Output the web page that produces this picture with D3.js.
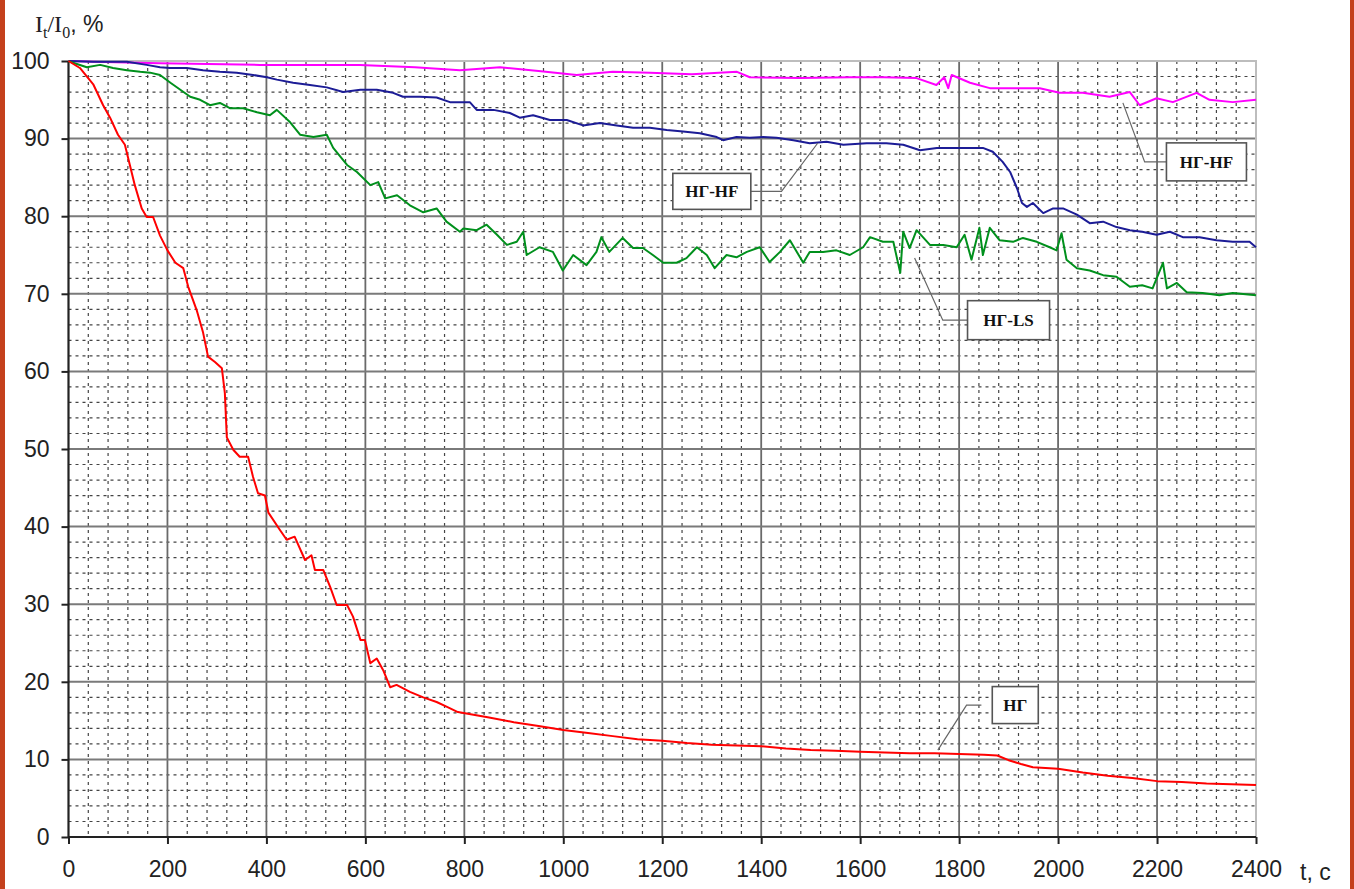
<!DOCTYPE html>
<html>
<head>
<meta charset="utf-8">
<script src="https://cdn.jsdelivr.net/npm/d3@7"></script>
<style>
  body { margin: 0; background: #fff; }
  svg { display: block; }
</style>
</head>
<body>
<svg id="chart" width="1354" height="889"></svg>
<script>
// Datos: [t, It/I0]
var serieNG = [
  [0, 100], [23, 99.1], [50, 97.0], [70, 94.3], [84, 92.7], [100, 90.5], [114, 89.2], [124, 86.6],
  [134, 84.0], [148, 81.0], [158, 79.9], [171, 79.9], [185, 77.5], [200, 75.6], [216, 74.0],
  [232, 73.3], [242, 70.9], [259, 67.9], [272, 65.0], [282, 61.9], [296, 61.2], [310, 60.4],
  [316, 57.2], [320, 51.5], [333, 49.9], [346, 49.0], [363, 49.0], [373, 46.4], [383, 44.3],
  [397, 44.0], [404, 41.8], [427, 39.6], [441, 38.3], [457, 38.7], [478, 35.7], [491, 36.3],
  [498, 34.4], [515, 34.4], [529, 32.2], [542, 29.9], [563, 29.9], [575, 28.4], [590, 25.4],
  [599, 25.4], [610, 22.4], [623, 23.0], [636, 21.5], [650, 19.3], [663, 19.6], [690, 18.7],
  [717, 18.0], [744, 17.4], [764, 16.8], [787, 16.1], [850, 15.4], [900, 14.8], [950, 14.3],
  [1000, 13.8], [1050, 13.4], [1100, 13.0], [1150, 12.6], [1200, 12.4], [1250, 12.1],
  [1300, 11.9], [1350, 11.8], [1400, 11.7], [1450, 11.4], [1500, 11.2], [1550, 11.1],
  [1600, 11.0], [1650, 10.9], [1700, 10.8], [1750, 10.8], [1800, 10.7], [1850, 10.6],
  [1877, 10.5], [1900, 9.9], [1925, 9.4], [1949, 9.0], [2000, 8.8], [2050, 8.3], [2100, 7.9],
  [2150, 7.6], [2200, 7.2], [2250, 7.1], [2300, 6.9], [2350, 6.8], [2400, 6.7]
];

var serieNGLS = [
  [0, 100], [3, 99.9], [37, 99.2], [64, 99.5], [90, 99.1], [118, 98.8], [145, 98.6], [165, 98.5],
  [185, 98.2], [206, 97.2], [226, 96.3], [246, 95.4], [266, 95.0], [286, 94.3], [306, 94.6],
  [327, 93.9], [353, 93.9], [381, 93.4], [407, 93.0], [421, 93.7], [448, 92.1], [468, 90.5],
  [495, 90.2], [522, 90.5], [535, 88.8], [563, 86.6], [583, 85.7], [610, 84.0], [626, 84.4],
  [640, 82.3], [664, 82.7], [690, 81.4], [717, 80.5], [744, 81.0], [764, 79.3], [791, 78.0],
  [798, 78.4], [825, 78.2], [845, 78.9], [866, 77.6], [886, 76.3], [906, 76.7], [919, 78.0],
  [926, 75.0], [952, 76.0], [979, 75.4], [999, 73.0], [1020, 75.0], [1047, 73.7], [1067, 75.4],
  [1077, 77.3], [1093, 75.4], [1120, 77.2], [1141, 75.9], [1161, 75.9], [1181, 75.0],
  [1202, 74.0], [1229, 74.0], [1249, 74.6], [1270, 76.0], [1290, 75.0], [1306, 73.3],
  [1330, 75.0], [1350, 74.7], [1371, 75.4], [1397, 76.0], [1417, 74.1], [1438, 75.4],
  [1458, 76.9], [1485, 74.0], [1498, 75.4], [1525, 75.4], [1552, 75.6], [1579, 75.0],
  [1606, 76.0], [1620, 77.3], [1646, 76.7], [1667, 76.7], [1681, 72.7], [1687, 78.0],
  [1700, 75.9], [1714, 78.2], [1741, 76.3], [1768, 76.3], [1795, 76.0], [1811, 77.6],
  [1825, 74.4], [1841, 78.5], [1848, 75.0], [1862, 78.5], [1882, 76.9], [1909, 76.7],
  [1929, 77.2], [1957, 76.7], [1983, 76.0], [1997, 75.6], [2007, 77.8], [2017, 74.4],
  [2038, 73.3], [2064, 73.0], [2091, 72.4], [2118, 72.2], [2145, 70.9], [2170, 71.1],
  [2191, 70.7], [2212, 74.0], [2220, 70.7], [2240, 71.4], [2260, 70.2], [2292, 70.1],
  [2326, 69.8], [2353, 70.1], [2400, 69.8]
];

var serieNGHF = [
  [0, 100], [50, 99.9], [118, 99.9], [158, 99.5], [185, 99.2], [205, 99.1], [239, 99.1],
  [272, 98.8], [306, 98.6], [340, 98.5], [373, 98.2], [401, 97.9], [421, 97.6], [454, 97.2],
  [488, 96.9], [522, 96.6], [555, 96.0], [590, 96.3], [623, 96.3], [656, 95.9], [676, 95.4],
  [710, 95.4], [744, 95.3], [771, 94.7], [811, 94.7], [825, 93.7], [859, 93.7], [892, 93.3],
  [912, 92.7], [939, 93.0], [973, 92.4], [1007, 92.4], [1040, 91.7], [1074, 92.0], [1108, 91.7],
  [1141, 91.4], [1175, 91.4], [1209, 91.1], [1242, 90.9], [1276, 90.7], [1310, 90.2],
  [1323, 89.8], [1350, 90.2], [1377, 90.1], [1404, 90.2], [1431, 90.1], [1465, 89.8],
  [1498, 89.4], [1532, 89.6], [1566, 89.2], [1613, 89.4], [1653, 89.4], [1687, 89.2],
  [1721, 88.5], [1755, 88.8], [1788, 88.8], [1822, 88.8], [1848, 88.8], [1868, 88.3],
  [1888, 87.0], [1903, 85.7], [1917, 83.6], [1927, 81.7], [1937, 81.2], [1949, 81.7],
  [1970, 80.4], [1990, 81.0], [2010, 81.0], [2038, 80.2], [2064, 79.1], [2091, 79.3],
  [2118, 78.6], [2145, 78.2], [2170, 78.0], [2199, 77.6], [2226, 78.0], [2252, 77.3],
  [2286, 77.3], [2320, 76.9], [2353, 76.7], [2387, 76.7], [2400, 76.0]
];

var serieNGHF2 = [
  [0, 100], [50, 99.9], [185, 99.7], [387, 99.5], [589, 99.5], [700, 99.2], [791, 98.8],
  [872, 99.2], [950, 98.7], [1027, 98.2], [1100, 98.6], [1175, 98.5], [1260, 98.3], [1351, 98.6],
  [1377, 97.9], [1478, 97.8], [1579, 97.9], [1647, 97.9], [1714, 97.8], [1754, 96.9],
  [1770, 97.9], [1778, 96.5], [1785, 98.2], [1822, 97.2], [1862, 96.5], [1917, 96.5],
  [1963, 96.5], [2003, 95.9], [2050, 95.9], [2104, 95.4], [2145, 96.0], [2165, 94.3],
  [2199, 95.2], [2232, 94.7], [2280, 95.9], [2306, 95.0], [2353, 94.7], [2400, 95.0]
];

var ticksX = d3.range(0, 2401, 200);
var ticksY = d3.range(0, 101, 10);

var series = [
  { datos: serieNGHF2, color: "#ff00ff" },
  { datos: serieNGHF, color: "#1c1c96" },
  { datos: serieNGLS, color: "#00901c" },
  { datos: serieNG, color: "#ff0000" }
];

// Etiquetas con líneas guía (en unidades de datos)
var etiquetas = [
  { texto: "НГ-HF", linea: [[2131, 94.6], [2175, 87], [2219, 87]], caja: [2219, 87], ancho: 80, alto: 38, lado: "izq" },
  { texto: "НГ-HF", linea: [[1514, 89.4], [1441, 83.2], [1379, 83.2]], caja: [1379, 83.2], ancho: 78, alto: 36, lado: "der" },
  { texto: "НГ-LS", linea: [[1710, 74.6], [1767, 66.6], [1817, 66.6]], caja: [1817, 66.6], ancho: 82, alto: 39, lado: "izq" },
  { texto: "НГ", linea: [[1757, 11.2], [1815, 17], [1845, 17]], caja: [1867, 17], ancho: 46, alto: 37, lado: "izq" }
];

var svg = d3.select("#chart");

// Marco
svg.append("rect").attr("x", 0).attr("y", 0).attr("width", 5).attr("height", 889).attr("fill", "#c4401c");
svg.append("rect").attr("x", 1350).attr("y", 0).attr("width", 4).attr("height", 889).attr("fill", "#c4401c");

var x = d3.scaleLinear().domain([0, 2400]).range([68.5, 1256]);
var y = d3.scaleLinear().domain([0, 100]).range([837, 61]);

var grid = svg.append("g");

// Rejilla menor (punteada)
d3.range(40, 2400, 40).filter(d => d % 200 !== 0).forEach(function (t) {
  grid.append("line")
    .attr("x1", x(t)).attr("x2", x(t)).attr("y1", y(100)).attr("y2", y(0))
    .attr("stroke", "#444").attr("stroke-width", 1.2).attr("stroke-dasharray", "3,4");
});
d3.range(2, 100, 2).filter(d => d % 10 !== 0).forEach(function (v) {
  grid.append("line")
    .attr("x1", x(0)).attr("x2", x(2400)).attr("y1", y(v)).attr("y2", y(v))
    .attr("stroke", "#444").attr("stroke-width", 1.2).attr("stroke-dasharray", "3,4");
});

// Rejilla mayor
ticksX.filter(d => d > 0 && d < 2400).forEach(function (t) {
  grid.append("line")
    .attr("x1", x(t)).attr("x2", x(t)).attr("y1", y(100)).attr("y2", y(0))
    .attr("stroke", "#6a6a6a").attr("stroke-width", 1.8);
});
ticksY.filter(d => d > 0 && d < 100).forEach(function (v) {
  grid.append("line")
    .attr("x1", x(0)).attr("x2", x(2400)).attr("y1", y(v)).attr("y2", y(v))
    .attr("stroke", "#7a7a7a").attr("stroke-width", 2);
});
// borde superior y derecho
grid.append("path")
  .attr("d", "M" + x(0) + "," + y(100) + "H" + x(2400) + "V" + y(0))
  .attr("fill", "none").attr("stroke", "#bdbdbd").attr("stroke-width", 2);

// Ejes
var ejeY = svg.append("g")
  .attr("transform", "translate(" + x(0) + ",0)")
  .call(d3.axisLeft(y).tickValues(ticksY).tickFormat(d3.format("d")).tickSize(7).tickPadding(12));
var ejeX = svg.append("g")
  .attr("transform", "translate(0," + y(0) + ")")
  .call(d3.axisBottom(x).tickValues(ticksX).tickFormat(d3.format("d")).tickSize(7).tickPadding(17));

[ejeY, ejeX].forEach(function (g) {
  g.select(".domain").attr("stroke", "#222").attr("stroke-width", 2.2);
  g.selectAll(".tick line").attr("stroke", "#222").attr("stroke-width", 2);
  g.selectAll(".tick text")
    .attr("fill", "#222")
    .style("font-family", "'Liberation Sans', Arial, sans-serif")
    .style("font-size", "23px");
});
ejeX.select(".domain").attr("d", "M" + x(0) + ",0H" + x(2400));
ejeY.select(".domain").attr("d", "M0," + y(0) + "V" + y(100));

// Curvas
var linea = d3.line().x(d => x(d[0])).y(d => y(d[1]));
series.forEach(function (s) {
  svg.append("path")
    .datum(s.datos)
    .attr("d", linea)
    .attr("fill", "none")
    .attr("stroke", s.color)
    .attr("stroke-width", 2)
    .attr("stroke-linejoin", "round");
});

// Etiquetas
etiquetas.forEach(function (e) {
  svg.append("path")
    .attr("d", d3.line().x(d => x(d[0])).y(d => y(d[1]))(e.linea))
    .attr("fill", "none").attr("stroke", "#666").attr("stroke-width", 1.2);
  var bx = e.lado === "der" ? x(e.caja[0]) - e.ancho : x(e.caja[0]);
  var by = y(e.caja[1]) - e.alto / 2;
  svg.append("rect")
    .attr("x", bx).attr("y", by).attr("width", e.ancho).attr("height", e.alto)
    .attr("fill", "#fff").attr("stroke", "#555").attr("stroke-width", 1.6);
  svg.append("text")
    .attr("x", bx + e.ancho / 2).attr("y", by + e.alto / 2 + 6)
    .attr("text-anchor", "middle")
    .style("font-family", "'Liberation Serif', 'Times New Roman', serif")
    .style("font-weight", "bold")
    .style("font-size", "17px")
    .attr("fill", "#111")
    .text(e.texto);
});

// Títulos de ejes
var tituloY = svg.append("text")
  .attr("x", 35).attr("y", 32)
  .style("font-family", "'Liberation Serif', 'Times New Roman', serif")
  .style("font-size", "24px")
  .attr("fill", "#222");
tituloY.append("tspan").text("I");
tituloY.append("tspan").attr("dy", 6).style("font-size", "16px").text("t");
tituloY.append("tspan").attr("dy", -6).text("/I");
tituloY.append("tspan").attr("dy", 6).style("font-size", "16px").text("0");
tituloY.append("tspan").attr("dy", -6).style("font-family", "'Liberation Sans', Arial, sans-serif").style("font-size", "23px").text(", %");

svg.append("text")
  .attr("x", 1300).attr("y", 880)
  .style("font-family", "'Liberation Sans', Arial, sans-serif")
  .style("font-size", "23px")
  .attr("fill", "#222")
  .text("t, c");
</script>
</body>
</html>
